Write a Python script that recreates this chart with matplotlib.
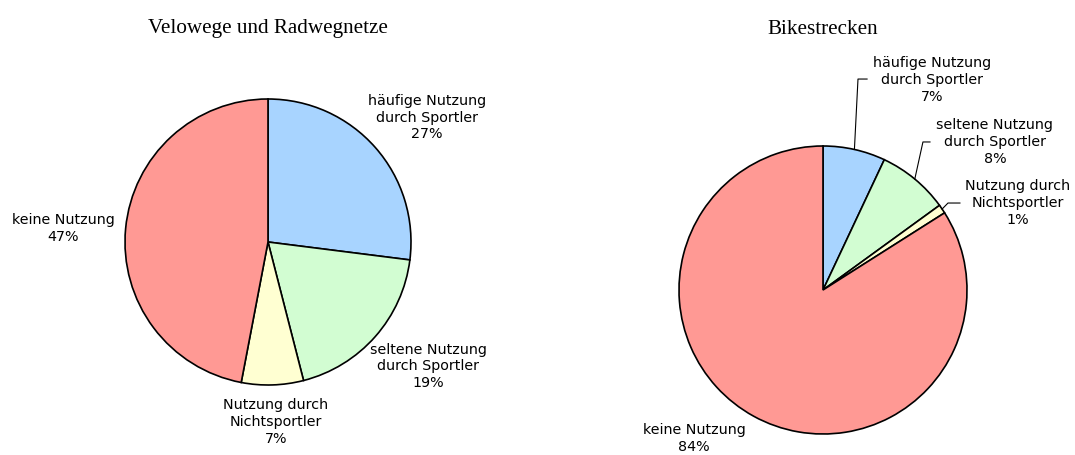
import matplotlib.pyplot as plt
import numpy as np

categories = ["häufige Nutzung\ndurch Sportler", "seltene Nutzung\ndurch Sportler",
              "Nutzung durch\nNichtsportler", "keine Nutzung"]
velo_values = [27, 19, 7, 47]
bike_values = [7, 8, 1, 84]
titles = ["Velowege und Radwegnetze", "Bikestrecken"]
colors = ["#A8D4FF", "#D2FDD2", "#FFFFD2", "#FF9994"]

W, H = 1075, 455
fig = plt.figure(figsize=(W / 100, H / 100), dpi=100)

def make_axes(cx, cy, r, size=420):
    # cx, cy in pixels from top-left; r = pie radius in pixels
    ax = fig.add_axes([(cx - size / 2) / W, (H - cy - size / 2) / H, size / W, size / H])
    return ax, size / 2 / r

def draw_pie(ax, values, lim):
    ax.pie(values, colors=colors, startangle=90, counterclock=False, radius=1,
           wedgeprops=dict(edgecolor="black", linewidth=1.2))
    ax.set_xlim(-lim, lim)
    ax.set_ylim(-lim, lim)
    ax.set_aspect("equal")
    ax.axis("off")

def label(ax, i, values, x, y):
    txt = f"{categories[i]}\n{values[i]}%"
    ax.text(x, y, txt, ha="center", va="center", fontsize=10.3,
            family="DejaVu Sans", linespacing=1.25, clip_on=False)

# left pie
ax1, lim1 = make_axes(268, 242, 143)
draw_pie(ax1, velo_values, lim1)
left_pos = [(1.11, 0.87), (1.12, -0.87), (0.056, -1.26), (-1.43, 0.094)]
for i, (x, y) in enumerate(left_pos):
    label(ax1, i, velo_values, x, y)
fig.text(268 / W, 1 - 29 / H, titles[0], ha="center", va="center",
         family="Liberation Serif", fontsize=15.2)

# right pie
ax2, lim2 = make_axes(823, 290, 144)
draw_pie(ax2, bike_values, lim2)
right_pos = [(0.757, 1.458), (1.194, 1.028), (1.354, 0.604), (-0.896, -1.03)]
for i, (x, y) in enumerate(right_pos):
    label(ax2, i, bike_values, x, y)
# leader lines from slice edge to label
elbows = [((0.243, 1.465), (0.306, 1.465)),
          ((0.694, 1.028), (0.743, 1.028)),
          ((0.868, 0.604), (0.951, 0.604))]
cum = np.cumsum(bike_values)
for i, (e1, e2) in enumerate(elbows):
    mid = (cum[i] - bike_values[i] / 2) / sum(bike_values) * 2 * np.pi
    x0, y0 = np.sin(mid), np.cos(mid)
    ax2.plot([x0, e1[0], e2[0]], [y0, e1[1], e2[1]], color="black", lw=0.8,
             clip_on=False)
fig.text(823 / W, 1 - 29 / H, titles[1], ha="center", va="center",
         family="Liberation Serif", fontsize=15.2)

fig.savefig("out.png", dpi=100, facecolor="white")
